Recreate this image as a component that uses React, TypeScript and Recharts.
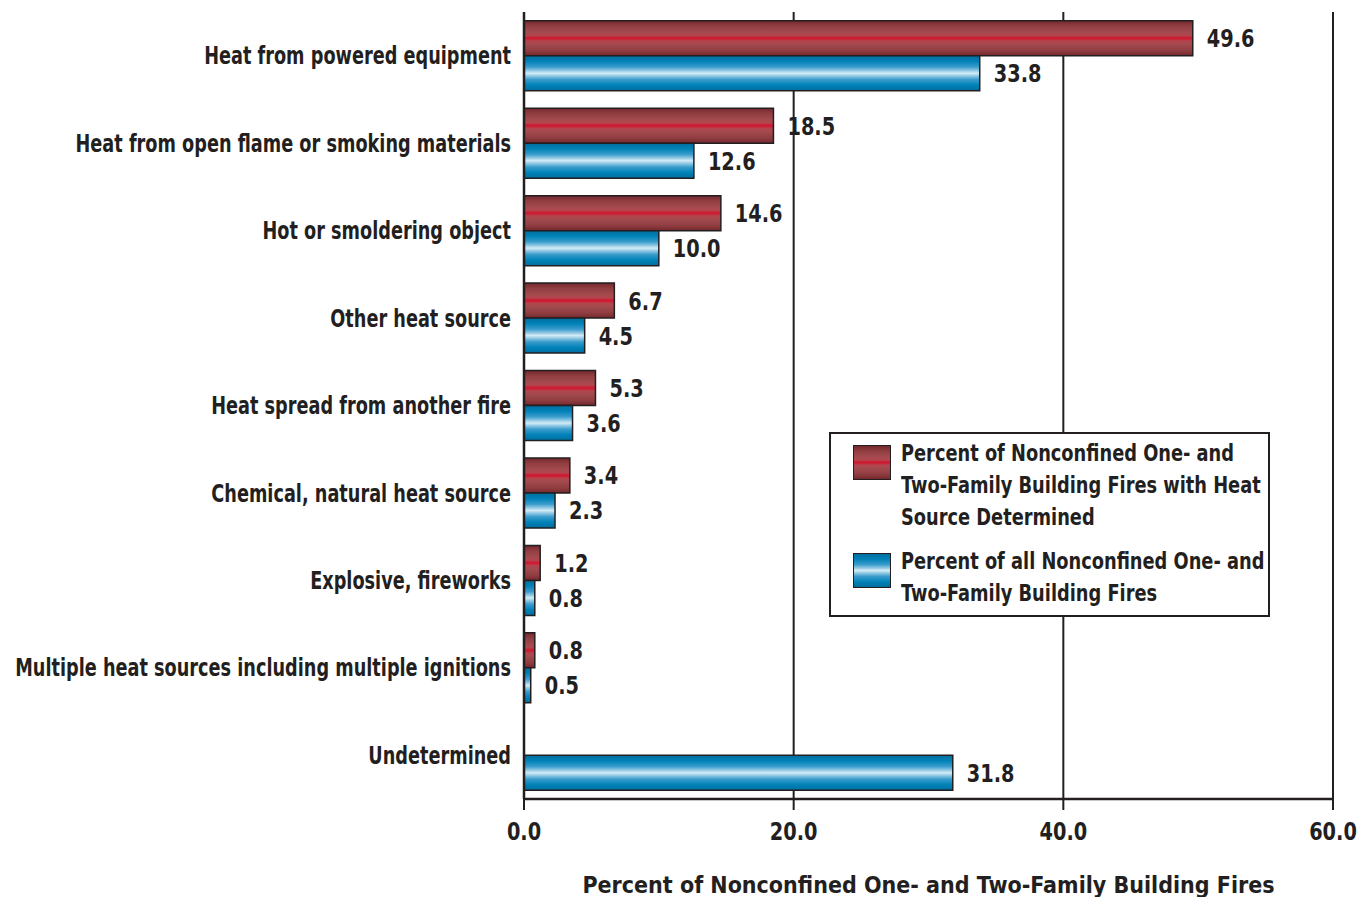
import {
  Bar,
  BarChart,
  CartesianGrid,
  LabelList,
  Legend,
  ReferenceLine,
  XAxis,
  YAxis,
} from "recharts";

const categories = [
  "Heat from powered equipment",
  "Heat from open flame or smoking materials",
  "Hot or smoldering object",
  "Other heat source",
  "Heat spread from another fire",
  "Chemical, natural heat source",
  "Explosive, fireworks",
  "Multiple heat sources including multiple ignitions",
  "Undetermined",
];

// percent of fires with heat source determined (none for "Undetermined")
const determinedPct = [49.6, 18.5, 14.6, 6.7, 5.3, 3.4, 1.2, 0.8, null];
// percent of all nonconfined one- and two-family building fires
const allPct = [33.8, 12.6, 10.0, 4.5, 3.6, 2.3, 0.8, 0.5, 31.8];

const xTicks = [0, 20, 40, 60];

const seriesNames = [
  "Percent of Nonconfined One- and Two-Family Building Fires with Heat Source Determined",
  "Percent of all Nonconfined One- and Two-Family Building Fires",
];
const legendLines = [
  ["Percent of Nonconfined One- and", "Two-Family Building Fires with Heat", "Source Determined"],
  ["Percent of all Nonconfined One- and", "Two-Family Building Fires"],
];

const xTitle = "Percent of Nonconfined One- and Two-Family Building Fires";

const data = categories.map((name, i) => ({
  name,
  determined: determinedPct[i],
  all: allPct[i],
}));

const INK = "#231f20";
const FONT = '"DejaVu Sans Condensed", "Liberation Sans Narrow", sans-serif';

const fmt = (v: unknown) => (v == null ? "" : Number(v).toFixed(1));

const RED_CSS =
  "linear-gradient(to bottom, #74282c 0%, #8f3c40 14%, #a24a4e 32%, #b2464e 42%, #d3142f 50%, #b2464e 58%, #a24a4e 68%, #8f3c40 86%, #74282c 100%)";
const BLUE_CSS =
  "linear-gradient(to bottom, #006e9e 0%, #0082b8 16%, #3a9ccc 32%, #9fd0e8 44%, #d4ecf6 50%, #9fd0e8 56%, #3a9ccc 68%, #0082b8 84%, #006e9e 100%)";

// the original type is a bold condensed face; squeeze DejaVu horizontally
function SqueezedText({ x, y, anchor, size, sx, dy, children }: any) {
  return (
    <g transform={`translate(${x},${y})`}>
      <text
        transform={`scale(${sx},1)`}
        textAnchor={anchor}
        dy={dy}
        fill={INK}
        fontSize={size}
        fontWeight={700}
        fontFamily={FONT}
      >
        {children}
      </text>
    </g>
  );
}

function CategoryTick(props: any) {
  return (
    <SqueezedText x={props.x} y={props.y} anchor="end" size={24} sx={0.82} dy="0.36em">
      {props.payload.value}
    </SqueezedText>
  );
}

function ValueTick(props: any) {
  return (
    <SqueezedText x={props.x} y={props.y} anchor="middle" size={25} sx={0.86} dy="0.72em">
      {fmt(props.payload.value)}
    </SqueezedText>
  );
}

function ValueLabel(props: any) {
  const { x, y, width, height, value } = props;
  if (value == null) return null;
  return (
    <SqueezedText x={x + width + 14} y={y + height / 2} anchor="start" size={25} sx={0.86} dy="0.36em">
      {fmt(value)}
    </SqueezedText>
  );
}

function LegendBox() {
  const swatches = [RED_CSS, BLUE_CSS];
  return (
    <div
      style={{
        width: 441,
        height: 185,
        border: `2px solid ${INK}`,
        background: "#fff",
        boxSizing: "border-box",
        padding: "3px 0 0 22px",
        fontFamily: FONT,
        fontWeight: 700,
        fontSize: 23,
        color: INK,
        textAlign: "left",
        whiteSpace: "nowrap",
      }}
    >
      {legendLines.map((lines, i) => (
        <div key={i} style={{ display: "flex", alignItems: "flex-start", marginBottom: 12 }}>
          <div
            style={{
              width: 38,
              height: 35,
              marginTop: 8,
              marginRight: 10,
              background: swatches[i],
              border: `1.5px solid ${INK}`,
              boxSizing: "border-box",
              flexShrink: 0,
            }}
          />
          <div style={{ lineHeight: "32px" }}>
            {lines.map((l) => (
              <div key={l} style={{ transform: "scaleX(0.86)", transformOrigin: "left center" }}>
                {l}
              </div>
            ))}
          </div>
        </div>
      ))}
    </div>
  );
}

export default function App() {
  return (
    <div style={{ position: "absolute", left: 0, top: 0, background: "#fff" }}>
      <BarChart
        width={1371}
        height={897}
        data={data}
        layout="vertical"
        margin={{ top: 12, right: 38, bottom: 0, left: 0 }}
        barCategoryGap="10%"
        barGap={0}
      >
        <defs>
          <linearGradient id="redGrad" x1="0" y1="0" x2="0" y2="1">
            <stop offset="0%" stopColor="#74282c" />
            <stop offset="14%" stopColor="#8f3c40" />
            <stop offset="32%" stopColor="#a24a4e" />
            <stop offset="42%" stopColor="#b2464e" />
            <stop offset="50%" stopColor="#d3142f" />
            <stop offset="58%" stopColor="#b2464e" />
            <stop offset="68%" stopColor="#a24a4e" />
            <stop offset="86%" stopColor="#8f3c40" />
            <stop offset="100%" stopColor="#74282c" />
          </linearGradient>
          <linearGradient id="blueGrad" x1="0" y1="0" x2="0" y2="1">
            <stop offset="0%" stopColor="#006e9e" />
            <stop offset="16%" stopColor="#0082b8" />
            <stop offset="32%" stopColor="#3a9ccc" />
            <stop offset="44%" stopColor="#9fd0e8" />
            <stop offset="50%" stopColor="#d4ecf6" />
            <stop offset="56%" stopColor="#9fd0e8" />
            <stop offset="68%" stopColor="#3a9ccc" />
            <stop offset="84%" stopColor="#0082b8" />
            <stop offset="100%" stopColor="#006e9e" />
          </linearGradient>
        </defs>
        <CartesianGrid horizontal={false} stroke={INK} strokeWidth={2} />
        <XAxis
          type="number"
          domain={[0, 60]}
          ticks={xTicks}
          tickSize={11}
          tickMargin={12}
          height={98}
          axisLine={{ stroke: INK, strokeWidth: 2.5 }}
          tickLine={{ stroke: INK, strokeWidth: 2 }}
          tick={<ValueTick />}
          label={{
            value: xTitle,
            position: "insideBottom",
            offset: 4,
            fill: INK,
            fontSize: 23,
            fontWeight: 700,
            fontFamily: FONT,
          }}
        />
        <YAxis
          yAxisId="cat"
          type="category"
          dataKey="name"
          width={524}
          tickSize={0}
          tickMargin={13}
          tickLine={false}
          axisLine={{ stroke: INK, strokeWidth: 2.5 }}
          tick={<CategoryTick />}
          interval={0}
        />
        <YAxis
          yAxisId="bounds"
          type="number"
          domain={[0, categories.length]}
          ticks={categories.map((_, i) => i).concat(categories.length)}
          width={0}
          tickSize={21}
          tick={false}
          axisLine={false}
          tickLine={{ stroke: INK, strokeWidth: 2 }}
        />
        <ReferenceLine yAxisId="bounds" y={categories.length} stroke={INK} strokeWidth={2} />
        <Legend
          layout="horizontal"
          align="center"
          verticalAlign="middle"
          wrapperStyle={{ left: 829, top: 432, width: 441 }}
          content={() => <LegendBox />}
        />
        <Bar
          yAxisId="cat"
          dataKey="determined"
          name={seriesNames[0]}
          fill="url(#redGrad)"
          stroke={INK}
          strokeWidth={1.5}
          isAnimationActive={false}
        >
          <LabelList dataKey="determined" content={<ValueLabel />} />
        </Bar>
        <Bar
          yAxisId="cat"
          dataKey="all"
          name={seriesNames[1]}
          fill="url(#blueGrad)"
          stroke={INK}
          strokeWidth={1.5}
          isAnimationActive={false}
        >
          <LabelList dataKey="all" content={<ValueLabel />} />
        </Bar>
      </BarChart>
    </div>
  );
}
